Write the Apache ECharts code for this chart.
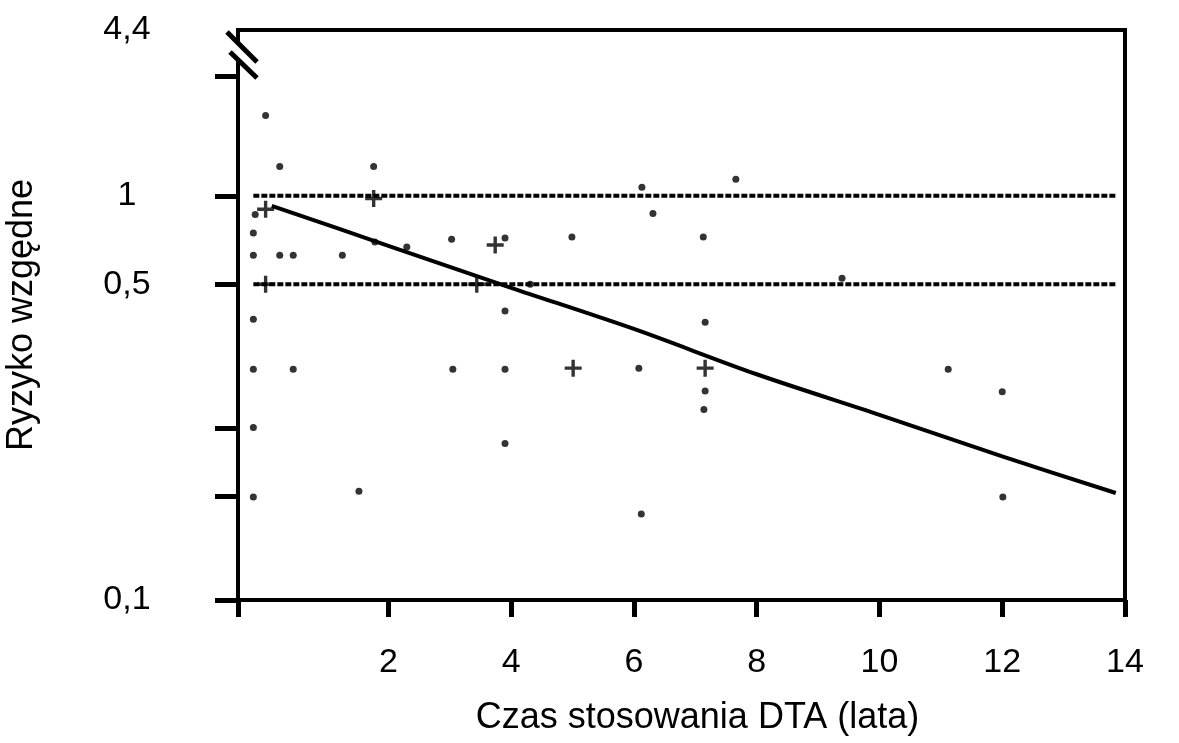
<!DOCTYPE html>
<html lang="pl">
<head>
<meta charset="UTF-8">
<title>Ryzyko wzgędne a czas stosowania DTA</title>
<script src="https://cdn.jsdelivr.net/npm/echarts@6.0.0/dist/echarts.min.js"></script>
<style>
    body { margin: 0; background: #fff; }
    #Chart1 { width: 1179px; height: 743px; }
</style>
</head>
<body>
<div id="Chart1"></div>
<script>

// x axis: years of use
const xMin = -0.45, xMax = 14;
const xTicks = [2, 4, 6, 8, 10, 12, 14];

// y axis: relative risk. The printed scale is not a clean log scale,
// so each labelled value gets its place on the axis (fraction of height)
const yLabelValues = [0.1, 0.5, 1, 4.4];
const yLabelPos = [0, 0.554, 0.709, 1];
const yExtraTicks = [0.17, 0.24, 2.9];

// single studies (small marks)
const pointYears = [0.0, 0.23, 1.76, 7.66, 6.13, 6.31, -0.17, -0.2, -0.2, 0.23, 0.45, 1.25, 3.03, 3.9, 1.78, 2.3, 4.99, 7.13, 4.31, 9.39,
    -0.2, 3.9, 7.16, -0.2, 0.45, 3.05, 3.9, 6.08, 7.16, 7.14, 11.12, 12.0, -0.2, 3.9, -0.2, 1.52, 6.12, 12.01];
const pointRisk = [2.05, 1.3, 1.3, 1.16, 1.08, 0.87, 0.864, 0.747, 0.628, 0.628, 0.628, 0.628, 0.712, 0.718, 0.696, 0.669, 0.724, 0.724, 0.5, 0.524,
    0.418, 0.436, 0.412, 0.324, 0.324, 0.324, 0.324, 0.326, 0.29, 0.264, 0.324, 0.289, 0.241, 0.222, 0.169, 0.174, 0.155, 0.169];

// larger studies (crosses)
const crossYears = [1.76, 0.0, 0.0, 3.44, 3.74, 5.01, 7.16];
const crossRisk = [0.98, 0.9, 0.5, 0.5, 0.68, 0.326, 0.326];

// fitted trend
const trendYears = [0.1, 2, 4, 6, 8, 10, 12, 13.85];
const trendRisk = [0.925, 0.676, 0.491, 0.398, 0.316, 0.257, 0.208, 0.1725];

// reference levels
const refRisk = [1, 0.5];
const refYears = [-0.2, 13.85];

function yPos(r) {
    const l = Math.log(r);
    for (let i = 1; i < yLabelValues.length; i++) {
        const a = Math.log(yLabelValues[i - 1]), b = Math.log(yLabelValues[i]);
        if (l <= b || i === yLabelValues.length - 1) {
            return yLabelPos[i - 1] + (l - a) / (b - a) * (yLabelPos[i] - yLabelPos[i - 1]);
        }
    }
}

function yLabel(v) {
    let best = 0;
    for (let i = 1; i < yLabelPos.length; i++) {
        if (Math.abs(yLabelPos[i] - v) < Math.abs(yLabelPos[best] - v)) best = i;
    }
    return String(yLabelValues[best]).replace('.', ',');
}

const font = 'Liberation Sans';
const labelSize = 34;
const nameSize = 36;

let myChart1 = echarts.init(document.getElementById('Chart1'));

let series = [];
refRisk.forEach(function (r) {
    series.push({
        type: 'line',
        data: refYears.map(function (x) { return [x, yPos(r)]; }),
        symbol: 'none',
        lineStyle: { color: '#000', width: 4, type: [6, 2] },
        z: 2
    });
});
series.push({
    type: 'line',
    data: trendYears.map(function (x, i) { return [x, yPos(trendRisk[i])]; }),
    symbol: 'none',
    smooth: 0.3,
    lineStyle: { color: '#000', width: 4 },
    z: 3
});
series.push({
    type: 'scatter',
    data: pointYears.map(function (x, i) { return [x, yPos(pointRisk[i])]; }),
    symbol: 'circle',
    symbolSize: 7,
    itemStyle: { color: '#000' },
    z: 4
});
series.push({
    type: 'scatter',
    data: crossYears.map(function (x, i) { return [x, yPos(crossRisk[i])]; }),
    symbol: 'path://M4,0h2v4h4v2h-4v4h-2v-4h-4v-2h4z',
    symbolSize: 17,
    itemStyle: { color: '#000' },
    z: 4
});

let option = {
    animation: false,
    backgroundColor: '#fff',
    grid: {
        left: 238, right: 54, top: 30, bottom: 143,
        show: true,
        borderColor: '#000',
        borderWidth: 4,
        containLabel: false,
        outerBoundsMode: 'none'
    },
    xAxis: {
        type: 'value',
        min: xMin,
        max: xMax,
        name: 'Czas stosowania DTA (lata)',
        nameLocation: 'middle',
        nameGap: 100,
        nameTextStyle: { fontFamily: font, fontSize: nameSize, color: '#000', padding: [0, 0, 0, 32] },
        axisLine: { onZero: false, lineStyle: { color: '#000', width: 4 } },
        axisTick: { length: 17, lineStyle: { color: '#000', width: 5 }, customValues: [xMin].concat(xTicks) },
        axisLabel: { customValues: xTicks, margin: 46, fontFamily: font, fontSize: labelSize, color: '#000' },
        splitLine: { show: false }
    },
    yAxis: {
        type: 'value',
        min: 0,
        max: 1,
        name: 'Ryzyko wzgędne',
        nameLocation: 'middle',
        nameGap: 198,
        nameTextStyle: { fontFamily: font, fontSize: nameSize, color: '#000' },
        axisLine: { onZero: false, lineStyle: { color: '#000', width: 4 } },
        axisTick: { length: 23, lineStyle: { color: '#000', width: 5 },
            customValues: yLabelValues.slice(0, 3).concat(yExtraTicks).map(yPos) },
        axisLabel: { customValues: yLabelPos, align: 'center', margin: 111, formatter: yLabel,
            fontFamily: font, fontSize: labelSize, color: '#000' },
        splitLine: { show: false }
    },
    series: series
};
myChart1.setOption(option);

// axis break marks on the upper part of the y axis
let c = myChart1.convertToPixel({ gridIndex: 0 }, [xMin, 1]);
myChart1.setOption({
    graphic: [
        { type: 'polygon', z: 100, shape: { points: [[c[0] - 9, c[1] + 5], [c[0] + 19, c[1] + 33], [c[0] + 19, c[1] + 47], [c[0] - 9, c[1] + 21]] },
          style: { fill: '#fff' } },
        { type: 'line', z: 101, shape: { x1: c[0] - 11, y1: c[1] + 2, x2: c[0] + 19, y2: c[1] + 32 },
          style: { stroke: '#000', lineWidth: 5 } },
        { type: 'line', z: 101, shape: { x1: c[0] - 8, y1: c[1] + 22, x2: c[0] + 19, y2: c[1] + 48 },
          style: { stroke: '#000', lineWidth: 5 } }
    ]
});

</script>
</body>
</html>
